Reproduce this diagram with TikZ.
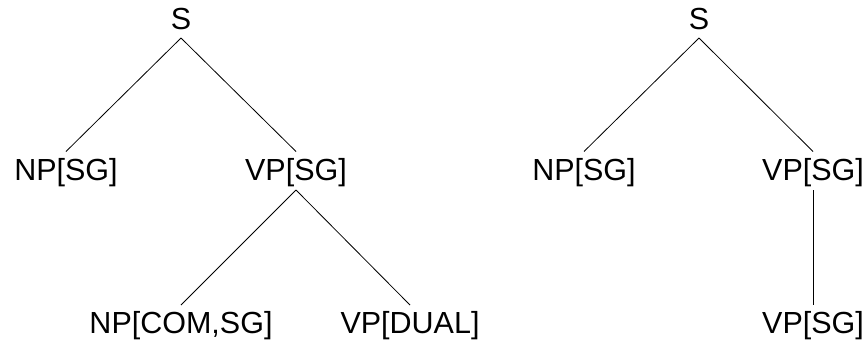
\documentclass[tikz,border=0pt]{standalone}
\usepackage{fontspec}
\setmainfont{Liberation Sans}
\begin{document}
\begin{tikzpicture}[x=1pt,y=-1pt,
  lbl/.style={anchor=base,inner sep=0pt,outer sep=0pt,text height=21.5pt,text depth=0pt,font=\fontsize{30.5}{36}\selectfont},
  edge/.style={draw=black,line width=0.8pt}]
\useasboundingbox (0,0) rectangle (868,341);
% left tree
\node[lbl] (S1) at (181,29) {S};
\node[lbl] (NP1) at (66,180) {NP[SG]};
\node[lbl] (VP1) at (296,180) {VP[SG]};
\node[lbl] (NPC) at (181,333) {NP[COM,SG]};
\node[lbl] (VPD) at (410,333) {VP[DUAL]};
\draw[edge] ([yshift=-9pt]S1.south) -- ([yshift=7pt]NP1.north);
\draw[edge] ([yshift=-9pt]S1.south) -- ([yshift=7pt]VP1.north);
\draw[edge] ([yshift=-10pt]VP1.south) -- ([yshift=6.5pt]NPC.north);
\draw[edge] ([yshift=-10pt]VP1.south) -- ([yshift=6.5pt]VPD.north);
% right tree
\node[lbl] (S2) at (699,29) {S};
\node[lbl] (NP2) at (584,180) {NP[SG]};
\node[lbl] (VP2) at (813,180) {VP[SG]};
\node[lbl] (VP3) at (813,333) {VP[SG]};
\draw[edge] ([yshift=-9pt]S2.south) -- ([yshift=7pt]NP2.north);
\draw[edge] ([yshift=-9pt]S2.south) -- ([yshift=7pt]VP2.north);
\draw[edge] ([yshift=-10pt]VP2.south) -- ([yshift=6.5pt]VP3.north);
\end{tikzpicture}
\end{document}
